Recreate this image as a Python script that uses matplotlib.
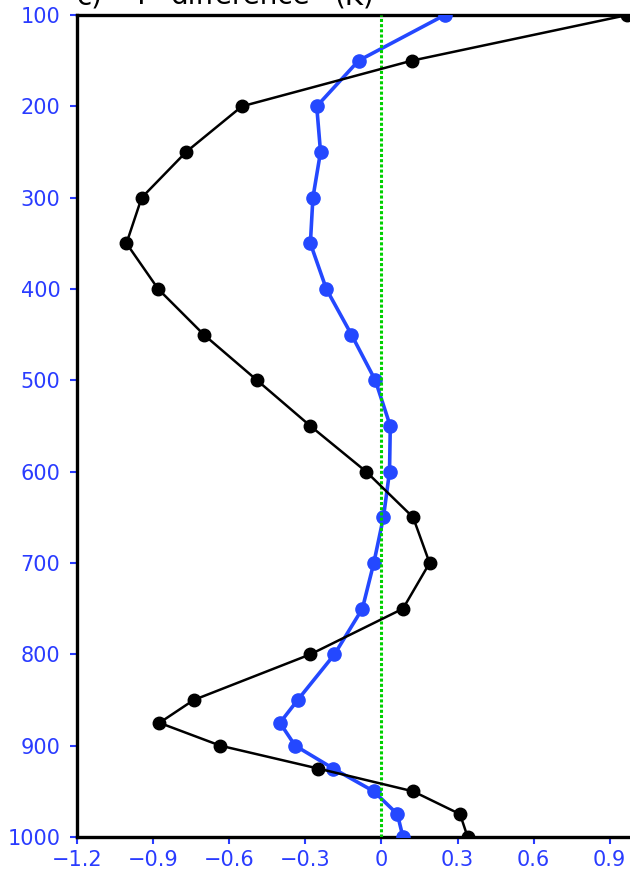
import numpy as np
import matplotlib
matplotlib.use("Agg")
import matplotlib.pyplot as plt

# pressure levels (hPa)
levels = [100, 150, 200, 250, 300, 350, 400, 450, 500, 550, 600,
          650, 700, 750, 800, 850, 875, 900, 925, 950, 975, 1000]

# T difference (K)
black_diff = [0.97, 0.12, -0.55, -0.77, -0.945, -1.005, -0.88, -0.70, -0.49, -0.28, -0.06,
              0.125, 0.19, 0.085, -0.28, -0.74, -0.875, -0.635, -0.25, 0.125, 0.31, 0.34]
blue_diff = [0.25, -0.09, -0.255, -0.24, -0.27, -0.28, -0.217, -0.118, -0.024, 0.035, 0.032,
             0.008, -0.03, -0.075, -0.185, -0.33, -0.40, -0.34, -0.19, -0.03, 0.063, 0.085]

xticks = [-1.2, -0.9, -0.6, -0.3, 0, 0.3, 0.6, 0.9]
xticklabels = ["\u22121.2", "\u22120.9", "\u22120.6", "\u22120.3", "0", "0.3", "0.6", "0.9"]
yticks = [100, 200, 300, 400, 500, 600, 700, 800, 900, 1000]

# title words and where they start (px from the left)
title_words = ["c)", "T", "difference", "(K)"]
title_x = [77, 132, 170, 335]

tick_blue = "#2a3cff"

fig = plt.figure(figsize=(6.3, 8.73), dpi=100)
ax = fig.add_axes([77 / 630, 1 - 837 / 873, 1 - 77 / 630, (837 - 15) / 873])

ax.plot(blue_diff, levels, color="#2448ff", lw=2.6, marker="o", ms=9.5, zorder=3)
ax.axvline(0, color="#00d000", lw=2.2, linestyle=(0, (1.0, 0.7)), zorder=4)
ax.plot(black_diff, levels, color="black", lw=1.8, marker="o", ms=9, zorder=5)

ax.set_xlim(-1.2, 0.98)
ax.set_ylim(1000, 100)
ax.set_xticks(xticks)
ax.set_xticklabels(xticklabels)
ax.set_yticks(yticks)

for side in ["left", "bottom", "top"]:
    ax.spines[side].set_linewidth(2.4)
ax.spines["right"].set_visible(False)

ax.tick_params(direction="out", length=5, width=1.5, color=tick_blue,
               labelcolor=tick_blue, labelsize=15)
ax.tick_params(axis="y", pad=7)
ax.tick_params(axis="x", pad=4)

# title sits mostly above the top edge, as in the original
for word, px in zip(title_words, title_x):
    fig.text(px / 630, 1 - 4 / 873, word, fontsize=20,
             color="black", ha="left", va="baseline")

fig.savefig("out.png", dpi=100)
